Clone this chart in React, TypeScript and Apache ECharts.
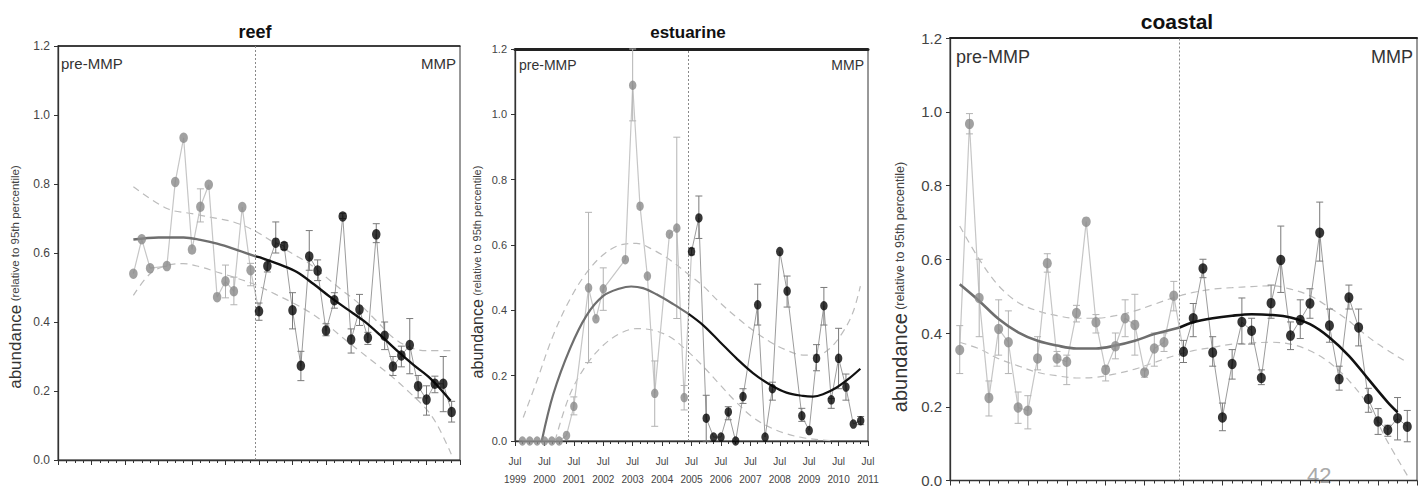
import React, { useEffect, useRef } from "react";
import * as echarts from "echarts";

const FONT = "'Liberation Sans Narrow', 'Arial Narrow', 'Liberation Sans', Arial, sans-serif";
const FONT_W = "'Liberation Sans', Arial, sans-serif";
const X0 = 1999.5; // Jul 1999 = start of the x axis
const SPLIT = 2005.4; // start of MMP

// ---------------- reef ----------------
const reefX = [2001.75, 2002.0, 2002.25, 2002.75, 2003.0, 2003.25, 2003.5, 2003.75, 2004.0, 2004.25, 2004.5, 2004.75, 2005.0, 2005.25,
  2005.5, 2005.75, 2006.0, 2006.25, 2006.5, 2006.75, 2007.0, 2007.25, 2007.5, 2007.75, 2008.0, 2008.25, 2008.5, 2008.75,
  2009.0, 2009.25, 2009.5, 2009.75, 2010.0, 2010.25, 2010.5, 2010.75, 2011.0, 2011.25];
const reefY = [0.54, 0.64, 0.556, 0.562, 0.806, 0.934, 0.61, 0.734, 0.798, 0.472, 0.518, 0.489, 0.733, 0.55,
  0.431, 0.562, 0.63, 0.62, 0.434, 0.273, 0.59, 0.549, 0.375, 0.463, 0.706, 0.349, 0.436, 0.354,
  0.654, 0.36, 0.271, 0.303, 0.333, 0.214, 0.175, 0.221, 0.221, 0.139];
const reefLo = [null, null, null, null, null, null, null, 0.69, null, null, 0.47, 0.45, null, 0.505,
  0.405, 0.545, 0.6, 0.61, 0.38, 0.23, 0.55, 0.52, 0.36, 0.44, 0.7, 0.31, 0.39, 0.335,
  0.63, 0.32, 0.245, 0.27, 0.25, 0.18, 0.13, 0.195, 0.14, 0.11];
const reefHi = [null, null, null, null, null, null, null, 0.786, null, null, 0.565, 0.53, null, 0.57,
  0.455, 0.58, 0.69, 0.63, 0.485, 0.315, 0.665, 0.58, 0.395, 0.485, 0.715, 0.38, 0.48, 0.37,
  0.685, 0.4, 0.3, 0.33, 0.41, 0.245, 0.215, 0.243, 0.3, 0.17];
const reefPre = 14;
const reefTrendPre = [[2001.75, 0.639], [2002.5, 0.645], [2003.25, 0.645], [2003.75, 0.638], [2004.25, 0.627], [2004.75, 0.612], [2005.4, 0.59]];
const reefTrendPost = [[2005.4, 0.59], [2005.63, 0.584], [2006.13, 0.566], [2006.63, 0.545], [2007.13, 0.51], [2007.63, 0.472],
  [2008.12, 0.438], [2008.62, 0.404], [2009.12, 0.362], [2009.62, 0.317], [2010.12, 0.275], [2010.62, 0.236], [2011.22, 0.172]];
const reefUpper = [[2001.75, 0.792], [2002.75, 0.729], [2003.5, 0.714], [2004.25, 0.7], [2004.74, 0.69], [2005.34, 0.666], [2006.0, 0.627],
  [2006.5, 0.598], [2007.0, 0.569], [2007.5, 0.53], [2007.98, 0.492], [2008.49, 0.453], [2008.99, 0.405], [2009.49, 0.356],
  [2009.99, 0.327], [2010.49, 0.317], [2011.24, 0.317]];
const reefLower = [[2001.75, 0.477], [2002.25, 0.54], [2002.75, 0.564], [2003.24, 0.569], [2003.74, 0.56], [2004.24, 0.545], [2004.74, 0.53],
  [2005.34, 0.51], [2006.0, 0.48], [2006.5, 0.456], [2007.0, 0.429], [2007.5, 0.395], [2007.98, 0.356], [2008.49, 0.317],
  [2008.99, 0.279], [2009.49, 0.24], [2009.99, 0.196], [2010.49, 0.148], [2010.83, 0.1], [2011.24, 0.017]];

// ---------------- estuarine ----------------
const estX = [1999.75, 2000.0, 2000.25, 2000.5, 2000.75, 2001.0, 2001.25, 2001.5, 2002.0, 2002.25, 2002.5, 2003.25, 2003.5, 2003.75,
  2004.0, 2004.25, 2004.75, 2005.0, 2005.25,
  2005.5, 2005.75, 2006.0, 2006.25, 2006.5, 2006.75, 2007.0, 2007.25, 2007.75, 2008.0, 2008.25, 2008.5, 2008.75,
  2009.25, 2009.5, 2009.75, 2010.0, 2010.25, 2010.5, 2010.75, 2011.0, 2011.25];
const estY = [0, 0, 0, 0, 0, 0, 0.017, 0.106, 0.469, 0.374, 0.466, 0.555, 1.089, 0.719, 0.505, 0.146, 0.633, 0.652, 0.133,
  0.58, 0.683, 0.07, 0.012, 0.012, 0.089, 0, 0.136, 0.417, 0.012, 0.16, 0.58, 0.459,
  0.077, 0.032, 0.253, 0.414, 0.126, 0.253, 0.165, 0.052, 0.062];
const estLo = [null, null, null, null, null, null, null, 0.08, 0.24, null, 0.4, null, 0.98, null, null, 0.045, null, 0.375, 0.095,
  0.57, 0.62, 0, null, null, 0.065, null, 0.115, 0.355, null, 0.125, null, 0.41,
  0.06, null, 0.215, 0.355, 0.1, 0.16, 0.125, null, 0.05];
const estHi = [null, null, null, null, null, null, null, 0.135, 0.7, null, 0.53, null, 1.2, null, null, 0.245, null, 0.93, 0.17,
  0.59, 0.75, 0.14, null, null, 0.105, null, 0.16, 0.48, null, 0.18, null, 0.505,
  0.1, null, 0.295, 0.47, 0.13, 0.345, 0.205, null, 0.075];
const estPre = 19;
const estTrendPre = [[2000.41, 0], [2000.8, 0.143], [2001.37, 0.283], [2001.93, 0.384], [2002.5, 0.444], [2003.07, 0.467], [2003.45, 0.473],
  [2003.85, 0.468], [2004.31, 0.449], [2004.88, 0.419], [2005.4, 0.389]];
const estTrendPost = [[2005.4, 0.389], [2005.9, 0.354], [2006.46, 0.304], [2007.03, 0.253], [2007.59, 0.208], [2008.16, 0.173],
  [2008.73, 0.148], [2009.29, 0.138], [2009.63, 0.136], [2009.97, 0.143], [2010.42, 0.163], [2010.88, 0.193], [2011.24, 0.221]];
const estUpper = [[1999.78, 0.072], [2000.24, 0.183], [2000.8, 0.324], [2001.37, 0.434], [2001.93, 0.515], [2002.5, 0.57], [2003.07, 0.6],
  [2003.63, 0.605], [2004.2, 0.585], [2004.76, 0.555], [2005.33, 0.515], [2005.9, 0.474], [2006.46, 0.424], [2007.03, 0.379],
  [2007.59, 0.339], [2008.16, 0.304], [2008.73, 0.278], [2009.29, 0.263], [2009.75, 0.263], [2010.2, 0.283], [2010.65, 0.334],
  [2010.99, 0.394], [2011.24, 0.474]];
const estLower = [[2000.86, 0], [2001.37, 0.143], [2001.93, 0.233], [2002.5, 0.293], [2003.07, 0.329], [2003.63, 0.344], [2004.2, 0.339],
  [2004.76, 0.319], [2005.33, 0.278], [2005.9, 0.228], [2006.46, 0.173], [2007.03, 0.118], [2007.59, 0.072], [2008.16, 0.042],
  [2008.73, 0.022], [2009.29, 0.01], [2009.86, 0.004], [2010.37, 0]];

// ---------------- coastal ----------------
const coastX = [1999.75, 2000.0, 2000.25, 2000.5, 2000.75, 2001.0, 2001.25, 2001.5, 2001.75, 2002.0, 2002.25, 2002.5, 2002.75,
  2003.0, 2003.25, 2003.5, 2003.75, 2004.0, 2004.25, 2004.5, 2004.75, 2005.0, 2005.25,
  2005.5, 2005.75, 2006.0, 2006.25, 2006.5, 2006.75, 2007.0, 2007.25, 2007.5, 2007.75, 2008.0, 2008.25, 2008.5, 2008.75,
  2009.0, 2009.25, 2009.5, 2009.75, 2010.0, 2010.25, 2010.5, 2010.75, 2011.0, 2011.25];
const coastY = [0.354, 0.967, 0.495, 0.224, 0.411, 0.375, 0.198, 0.189, 0.331, 0.589, 0.331, 0.322, 0.454, 0.702, 0.429, 0.3,
  0.364, 0.44, 0.422, 0.293, 0.358, 0.375, 0.501,
  0.349, 0.44, 0.575, 0.347, 0.171, 0.316, 0.43, 0.406, 0.278, 0.481, 0.598, 0.393, 0.435, 0.48, 0.672, 0.42, 0.275, 0.496,
  0.415, 0.221, 0.16, 0.137, 0.169, 0.146];
const coastLo = [0.29, 0.94, 0.39, 0.175, 0.34, 0.29, 0.155, 0.14, 0.3, 0.565, 0.31, 0.26, 0.43, null, 0.4, 0.27, 0.33, 0.39,
  0.34, 0.28, 0.31, 0.35, 0.46,
  0.32, 0.39, 0.55, 0.31, 0.135, 0.275, 0.37, 0.37, 0.26, 0.44, 0.51, 0.355, 0.385, 0.44, 0.595, 0.375, 0.245, 0.465,
  0.365, 0.185, 0.125, 0.12, 0.11, 0.105];
const coastHi = [0.42, 0.995, 0.6, 0.27, 0.49, 0.46, 0.24, 0.23, 0.39, 0.615, 0.35, 0.34, 0.475, null, 0.45, 0.31, 0.4, 0.49,
  0.505, 0.3, 0.4, 0.4, 0.54,
  0.38, 0.48, 0.6, 0.39, 0.21, 0.355, 0.495, 0.44, 0.3, 0.53, 0.69, 0.43, 0.49, 0.52, 0.755, 0.465, 0.31, 0.53,
  0.465, 0.25, 0.195, 0.15, 0.225, 0.19];
const coastPre = 23;
const coastTrendPre = [[1999.75, 0.532], [2000.25, 0.487], [2000.75, 0.438], [2001.25, 0.402], [2001.75, 0.379], [2002.25, 0.366],
  [2002.75, 0.358], [2003.25, 0.358], [2003.75, 0.366], [2004.25, 0.379], [2004.75, 0.397], [2005.4, 0.415]];
const coastTrendPost = [[2005.4, 0.415], [2005.75, 0.429], [2006.25, 0.44], [2006.75, 0.447], [2007.25, 0.451], [2007.75, 0.449],
  [2008.25, 0.442], [2008.75, 0.424], [2009.25, 0.388], [2009.75, 0.338], [2010.25, 0.275], [2010.75, 0.212], [2011.0, 0.185]];
const coastUpper = [[1999.75, 0.69], [2000.25, 0.6], [2000.75, 0.528], [2001.25, 0.483], [2001.75, 0.46], [2002.25, 0.447], [2002.75, 0.44],
  [2003.25, 0.44], [2003.75, 0.447], [2004.25, 0.46], [2004.75, 0.478], [2005.25, 0.496], [2005.75, 0.51], [2006.25, 0.519],
  [2006.75, 0.523], [2007.25, 0.526], [2007.75, 0.528], [2008.25, 0.519], [2008.75, 0.501], [2009.25, 0.469], [2009.75, 0.433],
  [2010.0, 0.41], [2010.5, 0.37], [2011.25, 0.32]];
const coastLower = [[1999.75, 0.375], [2000.25, 0.357], [2000.75, 0.33], [2001.25, 0.311], [2001.75, 0.293], [2002.25, 0.284], [2002.75, 0.278],
  [2003.25, 0.28], [2003.75, 0.289], [2004.25, 0.302], [2004.75, 0.32], [2005.25, 0.338], [2005.75, 0.352], [2006.25, 0.361],
  [2006.75, 0.37], [2007.25, 0.373], [2007.75, 0.375], [2008.25, 0.37], [2008.75, 0.352], [2009.25, 0.32], [2009.75, 0.271],
  [2010.25, 0.203], [2010.75, 0.104], [2011.25, 0.014]];

const yTicks = [0, 0.2, 0.4, 0.6, 0.8, 1.0, 1.2];

type Panel = {
  x: number[]; y: number[]; lo: (number | null)[]; hi: (number | null)[]; nPre: number;
  trendPre: number[][]; trendPost: number[][]; upper: number[][]; lower: number[][];
  grid: { left: number; top: number; width: number; height: number };
  sym: number[]; trendW: number; labelSize: number; topW: number; showX: boolean;
};

const panels: Panel[] = [
  { x: reefX, y: reefY, lo: reefLo, hi: reefHi, nPre: reefPre, trendPre: reefTrendPre, trendPost: reefTrendPost,
    upper: reefUpper, lower: reefLower, grid: { left: 58, top: 46, width: 402, height: 414 }, sym: [8.5, 10.5], trendW: 2.4,
    labelSize: 12, topW: 1.5, showX: false },
  { x: estX, y: estY, lo: estLo, hi: estHi, nPre: estPre, trendPre: estTrendPre, trendPost: estTrendPost,
    upper: estUpper, lower: estLower, grid: { left: 515, top: 49, width: 353, height: 398 }, sym: [7.5, 9.5], trendW: 2.2,
    labelSize: 11, topW: 3, showX: true },
  { x: coastX, y: coastY, lo: coastLo, hi: coastHi, nPre: coastPre, trendPre: coastTrendPre, trendPost: coastTrendPost,
    upper: coastUpper, lower: coastLower, grid: { left: 950, top: 38, width: 467, height: 443 }, sym: [9, 10.5], trendW: 2.6,
    labelSize: 15, topW: 2, showX: false },
];

const shift = (arr: number[][]) => arr.map(([x, v]) => [x - X0, v]);

function buildOption() {
  const grid: any[] = [];
  const xAxis: any[] = [];
  const yAxis: any[] = [];
  const series: any[] = [];

  panels.forEach((p, i) => {
    grid.push({ ...p.grid, show: true, borderColor: "#333", borderWidth: 1, backgroundColor: "transparent" });
    xAxis.push({
      gridIndex: i, type: "value", min: 0, max: 12, interval: 1, position: "bottom",
      axisLine: { show: true, onZero: false, lineStyle: { color: "#333", width: 1.3 } },
      axisTick: { show: true, length: 5, lineStyle: { color: "#333" } },
      minorTick: { show: true, splitNumber: 4, length: 3, lineStyle: { color: "#333" } },
      splitLine: { show: false }, minorSplitLine: { show: false },
      axisLabel: {
        show: p.showX, margin: 11, fontSize: 10, lineHeight: 18, color: "#444", fontFamily: FONT,
        formatter: (v: number) => "Jul\n" + (1999 + Math.round(v)),
      },
    });
    yAxis.push({
      gridIndex: i, type: "value", min: yTicks[0], max: yTicks[yTicks.length - 1], interval: 0.2,
      axisLine: { show: true, lineStyle: { color: "#333", width: 1.3 } },
      axisTick: { show: true, length: 4, lineStyle: { color: "#333" } },
      splitLine: { show: false },
      axisLabel: { margin: 8, fontSize: p.labelSize, color: "#444", fontFamily: FONT, formatter: (v: number) => v.toFixed(1) },
    });
  });
  // thick top borders
  panels.forEach((p, i) => {
    xAxis.push({
      gridIndex: i, type: "value", min: 0, max: 12, position: "top",
      axisLine: { show: true, onZero: false, lineStyle: { color: "#222", width: p.topW } },
      axisTick: { show: false }, axisLabel: { show: false }, splitLine: { show: false },
    });
  });

  panels.forEach((p, i) => {
    const pts = p.x.map((x, k) => [x - X0, p.y[k]]);
    const ax = { xAxisIndex: i, yAxisIndex: i };
    const dashed = { color: "#bcbcbc", width: 1.2, type: [7, 5] };
    series.push({ type: "line", ...ax, data: shift(p.upper), smooth: 0.35, symbol: "none", lineStyle: dashed, z: 1, silent: true });
    series.push({ type: "line", ...ax, data: shift(p.lower), smooth: 0.35, symbol: "none", lineStyle: dashed, z: 1, silent: true });
    series.push({
      type: "line", ...ax, data: pts.slice(0, p.nPre + 1), symbol: "none", lineStyle: { color: "#c6c6c6", width: 1.2 }, z: 2, silent: true,
      markLine: {
        silent: true, symbol: ["none", "none"], label: { show: false },
        lineStyle: { type: [2, 2], color: "#8a8a8a", width: 1 },
        data: [[{ coord: [SPLIT - X0, 0] }, { coord: [SPLIT - X0, 1.2] }]],
      },
    });
    series.push({ type: "line", ...ax, data: pts.slice(p.nPre), symbol: "none", lineStyle: { color: "#9c9c9c", width: 1 }, z: 2, silent: true });
    const bars: number[][] = [];
    p.x.forEach((x, k) => {
      const lo = p.lo[k], hi = p.hi[k];
      if (lo !== null && hi !== null) bars.push([x - X0, lo, hi, k >= p.nPre ? 1 : 0]);
    });
    series.push({
      type: "custom", ...ax, data: bars, z: 3, silent: true, encode: { x: 0, y: [1, 2] },
      renderItem: (params: any, api: any) => {
        const xv = api.value(0), lo = api.value(1), hi = api.value(2), post = api.value(3);
        const a = api.coord([xv, lo]);
        const b = api.coord([xv, hi]);
        const w = 3.5;
        const stroke = post ? "#7a7a7a" : "#b3b3b3";
        const st = { stroke, lineWidth: 1 };
        return {
          type: "group",
          children: [
            { type: "line", shape: { x1: a[0], y1: a[1], x2: b[0], y2: b[1] }, style: st },
            { type: "line", shape: { x1: a[0] - w, y1: a[1], x2: a[0] + w, y2: a[1] }, style: st },
            { type: "line", shape: { x1: b[0] - w, y1: b[1], x2: b[0] + w, y2: b[1] }, style: st },
          ],
        };
      },
    });
    series.push({ type: "line", ...ax, data: shift(p.trendPre), smooth: 0.35, symbol: "none", lineStyle: { color: "#6e6e6e", width: p.trendW }, z: 4, silent: true });
    series.push({ type: "line", ...ax, data: shift(p.trendPost), smooth: 0.35, symbol: "none", lineStyle: { color: "#111", width: p.trendW }, z: 4, silent: true });
    series.push({ type: "scatter", ...ax, data: pts.slice(0, p.nPre), symbol: "circle", symbolSize: p.sym, itemStyle: { color: "#8a8a8a" }, z: 5, silent: true });
    series.push({ type: "scatter", ...ax, data: pts.slice(p.nPre), symbol: "circle", symbolSize: p.sym, itemStyle: { color: "#050505" }, z: 5, silent: true });
  });

  const txt = (text: string, x: number, y: number, size: number, align: string, weight = "normal", fill = "#333", family = FONT) => ({
    type: "text", x, y, silent: true,
    style: { text, fill, font: `${weight} ${size}px ${family}`, align, verticalAlign: "middle", textAlign: align, textVerticalAlign: "middle" },
  });
  const yName = (x: number, y: number, a: number, b: number) => ({
    type: "text", x, y, rotation: Math.PI / 2, silent: true,
    style: {
      text: "{a|abundance} {b|(relative to 95th percentile)}",
      rich: {
        a: { fontSize: a, fontFamily: FONT_W, fill: "#333" },
        b: { fontSize: b, fontFamily: FONT_W, fill: "#444" },
      },
      align: "center", verticalAlign: "middle", textAlign: "center", textVerticalAlign: "middle",
    },
  });

  const graphic = [
    txt("reef", 255, 32, 18, "center", "bold", "#111"),
    txt("estuarine", 688, 32, 17, "center", "bold", "#111"),
    txt("coastal", 1177, 21, 21, "center", "bold", "#111"),
    txt("pre-MMP", 61, 63, 15, "left"),
    txt("MMP", 456, 63, 15, "right"),
    txt("pre-MMP", 519, 65, 14, "left"),
    txt("MMP", 864, 65, 14, "right"),
    txt("pre-MMP", 956, 57, 18, "left"),
    txt("MMP", 1413, 57, 18, "right"),
    txt("42", 1307, 475, 22, "left", "normal", "#aaa", FONT_W),
    yName(15, 277, 17, 11.5),
    yName(477, 272, 16, 11),
    yName(900, 287, 20, 12.5),
  ];

  return { animation: false, backgroundColor: "#fff", grid, xAxis, yAxis, series, graphic };
}

export default function App() {
  const ref = useRef<HTMLDivElement>(null);
  useEffect(() => {
    if (!ref.current) return;
    const chart = echarts.init(ref.current, undefined, { renderer: "svg" });
    chart.setOption(buildOption() as any);
    return () => chart.dispose();
  }, []);
  return <div ref={ref} style={{ position: "absolute", left: 0, top: 0, width: 1425, height: 488 }} />;
}
